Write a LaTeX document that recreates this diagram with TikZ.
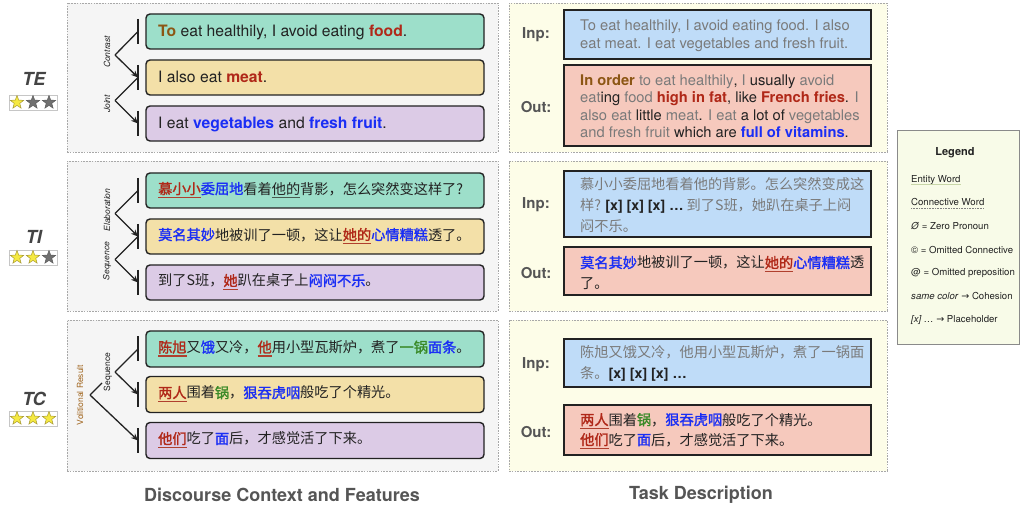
\documentclass[tikz,border=0pt]{standalone}
\usepackage{fontspec}
\setmainfont{TeX Gyre Heros}
\newfontfamily\cjk[BoldFont={Noto Sans CJK SC},BoldFeatures={FakeBold=1.6}]{Noto Sans CJK SC}
\newfontfamily\djv{DejaVu Sans}
\usetikzlibrary{arrows.meta,shapes.geometric}
\definecolor{cDark}{HTML}{222222}
\definecolor{cRed}{HTML}{B02818}
\definecolor{cBrown}{HTML}{8C5614}
\definecolor{cBlue}{HTML}{1A2EF5}
\definecolor{cGreen}{HTML}{3A8A28}
\definecolor{cGray}{HTML}{7A7A7A}
\definecolor{cLab}{HTML}{555555}
\definecolor{cVol}{HTML}{A0651E}
\definecolor{ulRed}{HTML}{B0402E}
\definecolor{ulDark}{HTML}{4A5A50}
\definecolor{cPanL}{HTML}{F5F5F5}
\definecolor{cPanR}{HTML}{FDFDE8}
\definecolor{cPanEdge}{HTML}{A8A8A8}
\definecolor{fTeal}{HTML}{9DDFCA}
\definecolor{fYel}{HTML}{F3E0A8}
\definecolor{fPur}{HTML}{DCCBE6}
\definecolor{fInp}{HTML}{BFDCF8}
\definecolor{fOut}{HTML}{F6C9BD}
\definecolor{fLeg}{HTML}{F8FBE8}
\definecolor{cLegEdge}{HTML}{8A8A8A}
\definecolor{cStarY}{HTML}{F5E942}
\definecolor{cStarYd}{HTML}{A89A30}
\definecolor{cStarG}{HTML}{707070}
\definecolor{ulEnt}{HTML}{C8D6A8}
\newcommand\ulc[2]{\setbox0=\hbox{#2}\leavevmode\rlap{\color{#1}\rule[-4pt]{\wd0}{1.2pt}}\box0}
\newcommand\tred[1]{{\color{cRed}\bfseries #1}}
\newcommand\tblue[1]{{\color{cBlue}\bfseries #1}}
\newcommand\tgreen[1]{{\color{cGreen}\bfseries #1}}
\newcommand\tbrown[1]{{\color{cBrown}\bfseries #1}}
\newcommand\tblk[1]{{\color{cDark}#1}}
\newcommand\phold{{\rmfamily\bfseries\color{cDark}[x] [x] [x] …}}
\begin{document}
\begin{tikzpicture}[x=1pt,y=-1pt,
 panL/.style={draw=cPanEdge, dash pattern=on 1.6pt off 1.2pt, line width=0.7pt, fill=cPanL, minimum width=431pt, minimum height=149pt, inner sep=0},
 panR/.style={panL, fill=cPanR, minimum width=378pt},
 sbox/.style={draw=cDark, line width=1.4pt, rounded corners=4pt, minimum width=338pt, minimum height=35pt, inner sep=0},
 tbox/.style={draw=cDark, line width=1.8pt, minimum width=307pt, inner sep=0},
 stxt/.style={anchor=base west, inner sep=0, text=cDark, font=\fontsize{15.7}{18}\selectfont},
 ctxt/.style={anchor=west, inner sep=0, text=cDark, font=\cjk\fontsize{14.2}{21}\selectfont},
 ttxt/.style={anchor=west, inner sep=0, align=left, text=cGray, font=\fontsize{14.7}{17.5}\selectfont},
 tctxt/.style={anchor=west, inner sep=0, align=left, text=cGray, font=\cjk\fontsize{14.2}{21}\selectfont},
 iolab/.style={inner sep=0, font=\bfseries\fontsize{15}{18}\selectfont, text=cLab},
 bar/.style={draw=cDark, line width=1.8pt},
 rel/.style={draw=cDark, line width=1.3pt},
 rarr/.style={rel, -{Stealth[length=7pt,width=6pt]}},
 rlab/.style={rotate=90, inner sep=0, text=cDark, font=\itshape\fontsize{8.5}{10}\selectfont},
 tlab/.style={inner sep=0, text=cLab!80!black, font=\bfseries\itshape\fontsize{18}{20}\selectfont},
 sframe/.style={draw=gray!45, line width=0.6pt, minimum width=48pt, minimum height=15pt, inner sep=0},
 starY/.style={star, star points=5, star point ratio=2.4, minimum size=14pt, inner sep=0, fill=cStarY, draw=cStarYd, line width=0.5pt},
 starG/.style={starY, fill=cStarG, draw=cStarG!80!black},
 legt/.style={anchor=west, inner sep=0, text=cDark, font=\fontsize{9.6}{11}\selectfont},
 foot/.style={inner sep=0, text=cLab, font=\bfseries\fontsize{18}{20}\selectfont}
]
\useasboundingbox (0,0) rectangle (1020,510);
\fill[white] (0,0) rectangle (1020,510);

% ---------- panels ----------
\node[panL] (pl1) at (282.5,77.5) {};
\node[panL, minimum height=150pt] (pl2) at (282.5,236) {};
\node[panL, minimum height=151pt] (pl3) at (282.5,395.5) {};
\node[panR] (pr1) at (698,77.5) {};
\node[panR, minimum height=150pt] (pr2) at (698,236) {};
\node[panR, minimum height=151pt] (pr3) at (698,395.5) {};

% ---------- left labels ----------
\node[tlab] (te) at (34,79) {TE};
\node[sframe] (sf1) at (33,102.5) {};
\node[starY] (s11) at (17,102.5) {};
\node[starG] (s12) at (33,102.5) {};
\node[starG] (s13) at (49,102.5) {};
\node[tlab] (ti) at (34,237) {TI};
\node[sframe] (sf2) at (33,257.5) {};
\node[starY] (s21) at (17,257.5) {};
\node[starY] (s22) at (33,257.5) {};
\node[starG] (s23) at (49,257.5) {};
\node[tlab] (tc) at (34,398.5) {TC};
\node[sframe] (sf3) at (33,418.5) {};
\node[starY] (s31) at (17,418.5) {};
\node[starY] (s32) at (33,418.5) {};
\node[starY] (s33) at (49,418.5) {};

% ---------- panel 1 (TE) ----------
\node[sbox, fill=fTeal] (b11) at (315,31.5) {};
\node[sbox, fill=fYel] (b12) at (315,77.5) {};
\node[sbox, fill=fPur] (b13) at (315,123.5) {};
\node[stxt] (x11) at (158,37) {\tbrown{To} eat healthily, I avoid eating \tred{food}.};
\node[stxt] (x12) at (158,83) {I also eat \tred{meat}.};
\node[stxt] (x13) at (158,129) {I eat \tblue{vegetables} and \tblue{fresh fruit}.};
\coordinate (a11) at (138,31.5);
\coordinate (a12) at (138,77.5);
\coordinate (a13) at (138,123.5);
\coordinate (t11) at (115,55);
\coordinate (t12) at (115,100.5);
\foreach \a in {a11,a12,a13} \draw[bar] ([yshift=12.5pt]\a) -- ([yshift=-12.5pt]\a);
\draw[rel] (t11) -- (a11);
\draw[rarr] (t11) -- (a12);
\draw[rel] (t12) -- (a12);
\draw[rarr] (t12) -- (a13);
\node[rlab] (r11) at (107,52) {Contrast};
\node[rlab] (r12) at (107,104) {Joint};

% ---------- panel 2 (TI) ----------
\node[sbox, fill=fTeal] (b21) at (315,190.5) {};
\node[sbox, fill=fYel] (b22) at (315,236.5) {};
\node[sbox, fill=fPur] (b23) at (315,282.5) {};
\node[ctxt] (x21) at (158,190) {\ulc{ulRed}{\tred{慕小小}}\tblue{委屈地}看着\ulc{ulDark}{他的}背影，怎么突然变这样了?};
\node[ctxt] (x22) at (158,236) {\tblue{莫名其妙}地被训了一顿，这让\ulc{ulRed}{\tred{她的}}\tblue{心情糟糕}透了。};
\node[ctxt] (x23) at (158,282) {到了S班，\ulc{ulRed}{\tred{她}}趴在桌子上\tblue{闷闷不乐}。};
\coordinate (a21) at (138,190.5);
\coordinate (a22) at (138,236.5);
\coordinate (a23) at (138,282.5);
\coordinate (t21) at (115,213.5);
\coordinate (t22) at (115,259.5);
\foreach \a in {a21,a22,a23} \draw[bar] ([yshift=12.5pt]\a) -- ([yshift=-12.5pt]\a);
\draw[rel] (t21) -- (a21);
\draw[rarr] (t21) -- (a22);
\draw[rel] (t22) -- (a22);
\draw[rarr] (t22) -- (a23);
\node[rlab] (r21) at (107,210) {Elaboration};
\node[rlab] (r22) at (107,261) {Sequence};

% ---------- panel 3 (TC) ----------
\node[sbox, fill=fTeal, minimum height=36pt] (b31) at (315,349) {};
\node[sbox, fill=fYel, minimum height=36pt] (b32) at (315,394.5) {};
\node[sbox, fill=fPur, minimum height=36pt] (b33) at (315,440.5) {};
\node[ctxt] (x31) at (158,348.5) {\ulc{ulRed}{\tred{陈旭}}又\tblue{饿}又冷，\ulc{ulRed}{\tred{他}}用小型瓦斯炉，煮了\tgreen{一锅}\tblue{面条}。};
\node[ctxt] (x32) at (158,394) {\ulc{ulRed}{\tred{两人}}围着\tgreen{锅}，\tblue{狠吞虎咽}般吃了个精光。};
\node[ctxt] (x33) at (158,440) {\ulc{ulRed}{\tred{他们}}吃了\tblue{面}后，才感觉活了下来。};
\coordinate (a31) at (138,349);
\coordinate (a32) at (138,394.5);
\coordinate (a33) at (138,440.5);
\coordinate (t31) at (115,372);
\coordinate (t32) at (90,395);
\coordinate (vs) at (102,383);
\foreach \a in {a31,a32,a33} \draw[bar] ([yshift=12.5pt]\a) -- ([yshift=-12.5pt]\a);
\draw[rel] (t31) -- (a31);
\draw[rarr] (t31) -- (a32);
\draw[rel] (t32) -- (vs);
\draw[rarr] (t32) -- (a33);
\node[rlab, font=\fontsize{8.5}{10}\selectfont] (r31) at (108,372) {Sequence};
\node[rlab, text=cVol, font=\fontsize{8.5}{10}\selectfont] (r32) at (80,395) {Volitional Result};

% ---------- right panel 1 ----------
\node[tbox, fill=fInp, minimum height=49pt] (i1) at (717.5,34.5) {};
\node[tbox, fill=fOut, minimum height=81pt] (o1) at (717.5,105.5) {};
\node[iolab] (li1) at (536,35) {Inp:};
\node[iolab] (lo1) at (536,107) {Out:};
\node[ttxt] (ti1) at (580,35.5) {To eat healthily, I avoid eating food. I also\\eat meat. I eat vegetables and fresh fruit.};
\node[ttxt] (to1) at (580,106.5) {\tbrown{In order} to eat healthily\tblk{,} I \tblk{usually} avoid\\
eat\tblk{ing} food \tred{high in fat}\tblk{, like} \tred{French fries}\tblk{.} I\\
also eat \tblk{little} meat\tblk{.} I eat \tblk{a lot of} vegetables\\
and fresh fruit \tblk{which are} \tblue{full of vitamins}\tblk{.}};

% ---------- right panel 2 ----------
\node[tbox, fill=fInp, minimum height=66pt] (i2) at (717.5,204) {};
\node[tbox, fill=fOut, minimum height=48pt] (o2) at (717.5,271) {};
\node[iolab] (li2) at (536,205) {Inp:};
\node[iolab] (lo2) at (536,273) {Out:};
\node[tctxt] (ti2) at (580,205) {慕小小委屈地看着他的背影。怎么突然变成这\\样? \phold{} 到了S班，她趴在桌子上闷\\闷不乐。};
\node[tctxt, text=cDark] (to2) at (580,273) {\tblue{莫名其妙}地被训了一顿，这让\ulc{ulRed}{\tred{她的}}\tblue{心情糟糕}透\\了。};

% ---------- right panel 3 ----------
\node[tbox, fill=fInp, minimum height=48pt] (i3) at (717.5,363) {};
\node[tbox, fill=fOut, minimum height=50pt] (o3) at (717.5,430) {};
\node[iolab] (li3) at (536,365) {Inp:};
\node[iolab] (lo3) at (536,432) {Out:};
\node[tctxt] (ti3) at (580,363.5) {陈旭又饿又冷，他用小型瓦斯炉，煮了一锅面\\条。\phold};
\node[tctxt, text=cDark, font=\cjk\fontsize{14.2}{20}\selectfont] (to3) at (580,431) {\ulc{ulRed}{\tred{两人}}围着\tgreen{锅}，\tblue{狠吞虎咽}般吃了个精光。\\\ulc{ulRed}{\tred{他们}}吃了\tblue{面}后，才感觉活了下来。};

% ---------- legend ----------
\node[draw=cLegEdge, line width=1pt, fill=fLeg, minimum width=122pt, minimum height=214pt, inner sep=0] (lg) at (958,238) {};
\node[inner sep=0, text=cDark, font=\bfseries\fontsize{11}{12}\selectfont] (lgt) at (955,153) {Legend};
\node[legt] (lg1) at (911,180) {Entity Word};
\draw[ulEnt, line width=1pt] ([yshift=-2.5pt]lg1.base west) -- ([yshift=-2.5pt]lg1.base east);
\node[legt] (lg2) at (911,202) {Connective Word};
\draw[gray, line width=0.8pt, dash pattern=on 0.8pt off 0.8pt] ([yshift=-2.5pt]lg2.base west) -- ([yshift=-2.5pt]lg2.base east);
\node[legt] (lg3) at (911,226) {\textit{Ø} = Zero Pronoun};
\node[legt] (lg4) at (911,250) {© = Omitted Connective};
\node[legt] (lg5) at (911,273) {@ = Omitted preposition};
\node[legt] (lg6) at (911,296) {\textit{same color} {\djv →} Cohesion};
\node[legt] (lg7) at (911,320) {\textit{[x] …} {\djv →} Placeholder};

% ---------- footers ----------
\node[foot] (f1) at (282,495) {Discourse Context and Features};
\node[foot] (f2) at (701,495) {Task Description};
\end{tikzpicture}
\end{document}
